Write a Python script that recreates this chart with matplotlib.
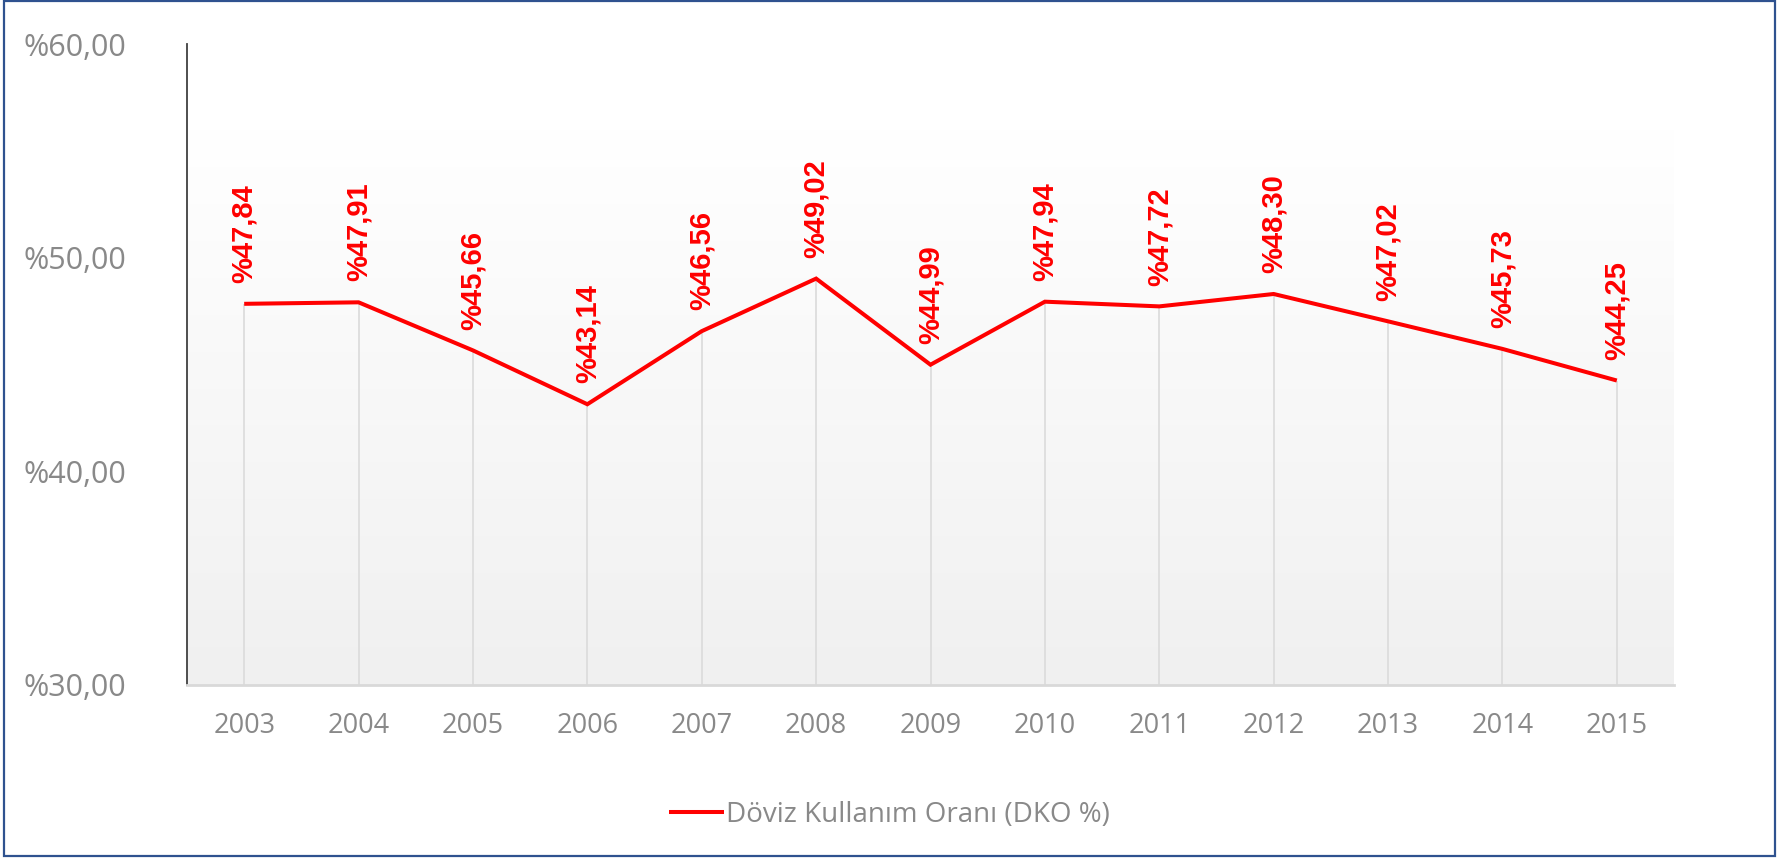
import matplotlib
matplotlib.use("Agg")
import matplotlib.pyplot as plt
import numpy as np
from matplotlib.patches import Rectangle

years = ["2003", "2004", "2005", "2006", "2007", "2008", "2009",
         "2010", "2011", "2012", "2013", "2014", "2015"]
dko = [47.84, 47.91, 45.66, 43.14, 46.56, 49.02, 44.99,
       47.94, 47.72, 48.30, 47.02, 45.73, 44.25]
yticks = [30, 40, 50, 60]
series_name = "Döviz Kullanım Oranı (DKO %)"

W, H = 1791, 858
fig = plt.figure(figsize=(W / 100, H / 100), dpi=100)
fig.patch.set_facecolor("white")

# outer border
fig.add_artist(Rectangle((4 / W, 1 - 856 / H), (1775 - 4) / W, (856 - 1) / H,
                         transform=fig.transFigure, fill=False,
                         edgecolor="#2F528F", linewidth=1.6))

ax = fig.add_axes([187 / W, 1 - 685 / H, (1674 - 187) / W, (685 - 44) / H])
x = np.arange(len(years))
ax.set_xlim(-0.5, len(years) - 0.5)
ax.set_ylim(30, 60)

# gradient background
grad = np.linspace(0, 1, 256).reshape(-1, 1)
cmap = matplotlib.colors.LinearSegmentedColormap.from_list("g", ["#f0f0f0", "#ffffff"])
ax.imshow(grad, extent=(-0.5, len(years) - 0.5, 30, 56), origin="lower",
          aspect="auto", cmap=cmap, zorder=0)
ax.set_facecolor("white")

# drop lines
ax.vlines(x, 30, dko, colors="#dddddd", linewidth=1.3, zorder=1)

ax.plot(x, dko, color="#ff0000", linewidth=2.9, solid_capstyle="butt",
        solid_joinstyle="miter", zorder=3, label=series_name)

for xi, v in zip(x, dko):
    ax.annotate("%" + f"{v:.2f}".replace(".", ","), (xi, v),
                xytext=(0, 15), textcoords="offset points",
                rotation=90, ha="center", va="bottom", color="#ff0000",
                fontsize=21, fontweight="bold", family="Liberation Sans")

for s in ["top", "right"]:
    ax.spines[s].set_visible(False)
ax.spines["left"].set_color("#404040")
ax.spines["left"].set_linewidth(1.3)
ax.spines["bottom"].set_color("#d9d9d9")
ax.spines["bottom"].set_linewidth(2)

ax.set_xticks(x)
ax.set_xticklabels(years, family="Open Sans", fontsize=19.5, color="#898989")
ax.set_yticks(yticks)
ax.set_yticklabels(["%" + f"{t:.2f}".replace(".", ",") for t in yticks],
                   family="Open Sans", fontsize=22, color="#898989")
ax.tick_params(axis="x", length=0, pad=19.5)
ax.tick_params(axis="y", length=0, pad=44)

leg = fig.legend(loc="center", bbox_to_anchor=(889 / W, 1 - 815 / H),
                 frameon=False, handlelength=2.0, handletextpad=0.05,
                 prop={"family": "Open Sans", "size": 20})
for t in leg.get_texts():
    t.set_color("#898989")

fig.savefig("out.png", dpi=100, facecolor="white")
